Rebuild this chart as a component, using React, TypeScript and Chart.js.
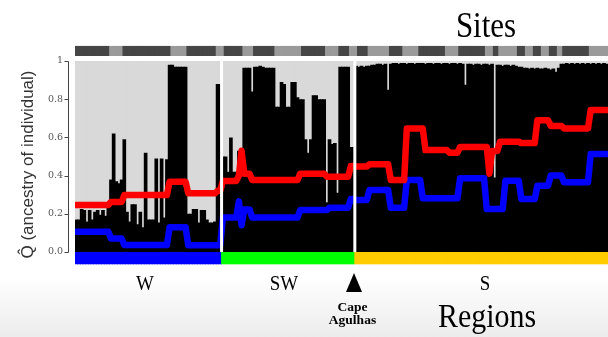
import React, { useEffect, useRef } from 'react';
import { Chart, registerables } from 'chart.js';

Chart.register(...registerables);

// ---- data ----
const regionNames = ['W', 'SW', 'S'];
const regionSizes = [55, 50, 95];
const regionColors = ['#0000ff', '#00ff00', '#ffcc00'];

const siteSizes = [13, 5, 18, 6, 11, 3, 7, 4, 8, 10, 9, 5, 4, 3, 4, 8, 5, 6, 10, 5, 10, 3, 2, 7, 3, 3, 3, 3, 3, 2, 10, 7];
const siteColors = ['#464646', '#9a9a9a'];

const yTickValues = [0, 0.2, 0.4, 0.6, 0.8, 1];
const yTickLabels = ['0.0', '0.2', '0.4', '0.6', '0.8', '1'];

const ancestryW = [
  0.17, 0.17, 0.225, 0.22, 0.16, 0.22, 0.17, 0.21, 0.22, 0.195,
  0.22, 0.19, 0.24, 0.38, 0.62, 0.37, 0.36, 0.38, 0.59, 0.21,
  0.16, 0.25, 0.25, 0.145, 0.21, 0.13, 0.52, 0.17, 0.17, 0.17,
  0.49, 0.155, 0.49, 0.18, 0.485, 0.98, 0.98, 0.97, 0.97, 0.97,
  0.97, 0.97, 0.2, 0.2, 0.225, 0.225, 0.155, 0.22, 0.22, 0.17,
  0.155, 0.155, 0.16, 0.88, 0.88,
];
const ancestrySW = [
  0.5, 0.5, 0.42, 0.6, 0.42, 0.42, 0.53, 0.53, 0.965, 0.965,
  0.965, 0.84, 0.97, 0.97, 0.975, 0.97, 0.965, 0.965, 0.965, 0.965,
  0.76, 0.76, 0.89, 0.88, 0.76, 0.76, 0.89, 0.89, 0.81, 0.8,
  0.8, 0.59, 0.52, 0.59, 0.82, 0.82, 0.8, 0.8, 0.8, 0.26,
  0.59, 0.565, 0.57, 0.31, 0.97, 0.97, 0.97, 0.97, 0.55, 0.55,
];
const ancestryS = [
  0.975, 0.97, 0.975, 0.97, 0.975, 0.975, 0.98, 0.98, 0.985, 0.985,
  0.98, 0.985, 0.85, 0.985, 0.99, 0.99, 0.985, 0.99, 0.99, 0.985,
  0.99, 0.99, 0.985, 0.99, 0.99, 0.99, 0.985, 0.99, 0.99, 0.985,
  0.99, 0.99, 0.985, 0.99, 0.99, 0.985, 0.99, 0.99, 0.985, 0.99,
  0.985, 0.875, 0.985, 0.985, 0.98, 0.985, 0.985, 0.98, 0.985, 0.985,
  0.98, 0.985, 0.39, 0.98, 0.98, 0.975, 0.98, 0.98, 0.975, 0.98,
  0.975, 0.97, 0.97, 0.965, 0.965, 0.96, 0.965, 0.96, 0.965, 0.96,
  0.96, 0.965, 0.96, 0.955, 0.96, 0.944, 0.965, 0.985, 0.985, 0.99,
  0.985, 0.99, 0.985, 0.99, 0.985, 0.99, 0.985, 0.99, 0.985, 0.99,
  0.985, 0.99, 0.985, 0.99, 0.985,
];

const redW = [
  0.246, 0.246, 0.246, 0.246, 0.246, 0.246, 0.246, 0.246, 0.246, 0.246, 0.246, 0.246, 0.246,
  0.262, 0.262, 0.262, 0.262, 0.262,
  0.298, 0.298, 0.298, 0.298, 0.298, 0.298, 0.298, 0.298, 0.298, 0.298, 0.298, 0.298, 0.298, 0.298, 0.298, 0.298, 0.298,
  0.368, 0.368, 0.368, 0.368, 0.368, 0.368, 0.368,
  0.307, 0.307, 0.307, 0.307, 0.307, 0.307, 0.307, 0.307, 0.307, 0.307, 0.307,
  0.32, 0.32,
];
const redSW = [
  0.372, 0.372, 0.372, 0.372, 0.372, 0.372,
  0.4, 0.53,
  0.41, 0.41, 0.41,
  0.377, 0.377, 0.377, 0.377, 0.377, 0.377, 0.377, 0.377, 0.377, 0.377, 0.377, 0.377, 0.377, 0.377, 0.377, 0.377, 0.377, 0.377,
  0.41, 0.41, 0.41, 0.41, 0.41, 0.41, 0.41, 0.41, 0.41, 0.41,
  0.394, 0.394, 0.394, 0.394, 0.394, 0.394, 0.394, 0.394, 0.394,
  0.45, 0.45,
];
const redS = [
  0.447, 0.447, 0.447, 0.447, 0.447,
  0.459, 0.459, 0.459, 0.459, 0.459, 0.459, 0.459, 0.459,
  0.377, 0.377, 0.377, 0.377, 0.377, 0.377,
  0.647, 0.647, 0.647, 0.647, 0.647, 0.647, 0.647,
  0.534, 0.534, 0.534, 0.534, 0.534, 0.534, 0.534, 0.534, 0.534,
  0.52, 0.52, 0.52, 0.52,
  0.55, 0.55, 0.55, 0.55, 0.55, 0.55, 0.55, 0.55, 0.55, 0.55, 0.55,
  0.41,
  0.529, 0.529, 0.529,
  0.577, 0.577, 0.577, 0.577, 0.577, 0.577, 0.577, 0.577,
  0.57, 0.57, 0.57, 0.57, 0.57, 0.57,
  0.69, 0.69, 0.69, 0.69, 0.69,
  0.66, 0.66, 0.66, 0.66, 0.66,
  0.647, 0.647, 0.647, 0.647, 0.647, 0.647, 0.647, 0.647, 0.647, 0.647,
  0.743, 0.743, 0.743, 0.743, 0.743, 0.743, 0.743,
];

const blueW = [
  0.106, 0.106, 0.106, 0.106, 0.106, 0.106, 0.106, 0.106, 0.106, 0.106, 0.106, 0.106, 0.106,
  0.07, 0.07, 0.07, 0.07, 0.07,
  0.036, 0.036, 0.036, 0.036, 0.036, 0.036, 0.036, 0.036, 0.036, 0.036, 0.036, 0.036, 0.036, 0.036, 0.036, 0.036, 0.036,
  0.13, 0.13, 0.13, 0.13, 0.13, 0.13, 0.13,
  0.035, 0.035, 0.035, 0.035, 0.035, 0.035, 0.035, 0.035, 0.035, 0.035, 0.035, 0.035, 0.035,
];
const blueSW = [
  0.18, 0.18, 0.18, 0.18, 0.18, 0.18,
  0.265, 0.14,
  0.223, 0.223, 0.223,
  0.18, 0.18, 0.18, 0.18, 0.18, 0.18, 0.18, 0.18, 0.18, 0.18, 0.18, 0.18, 0.18, 0.18, 0.18, 0.18, 0.18, 0.18,
  0.22, 0.22, 0.22, 0.22, 0.22, 0.22, 0.22, 0.22, 0.22, 0.22, 0.22,
  0.232, 0.232, 0.232, 0.232, 0.232, 0.232, 0.232, 0.232,
  0.278, 0.278,
];
const blueS = [
  0.272, 0.272, 0.272, 0.272, 0.272,
  0.325, 0.325, 0.325, 0.325, 0.325, 0.325, 0.325, 0.325,
  0.232, 0.232, 0.232, 0.232, 0.232, 0.232,
  0.377, 0.377, 0.377, 0.377, 0.377, 0.377,
  0.281, 0.281, 0.281, 0.281, 0.281, 0.281, 0.281, 0.281, 0.281, 0.281, 0.281, 0.281, 0.281, 0.281,
  0.386, 0.386, 0.386, 0.386, 0.386, 0.386, 0.386, 0.386, 0.386, 0.386,
  0.225, 0.225, 0.225, 0.225, 0.225, 0.225, 0.225,
  0.373, 0.373, 0.373, 0.373, 0.373, 0.373,
  0.277, 0.277, 0.277, 0.277, 0.277, 0.277,
  0.347, 0.347, 0.347, 0.347, 0.347,
  0.4, 0.4, 0.4, 0.4, 0.4,
  0.365, 0.365, 0.365, 0.365, 0.365, 0.365, 0.365, 0.365, 0.365, 0.365,
  0.513, 0.513, 0.513, 0.513, 0.513, 0.513, 0.513,
];

// ---- styling constants ----
const Y_MIN = -0.065;
const Y_MAX = 1.08;
const BAND_RANGE = [-0.065, 0];
const SITE_RANGE = [1.026, 1.08];

const ancestry = [...ancestryW, ...ancestrySW, ...ancestryS];
const redSeries = [...redW, ...redSW, ...redS];
const blueSeries = [...blueW, ...blueSW, ...blueS];
const individuals = ancestry.map((_, i) => String(i + 1));
const regionOf = regionSizes.flatMap((n, r) => Array(n).fill(r));
const siteOf = siteSizes.flatMap((n, s) => Array(n).fill(s));

const decorPlugin = {
  id: 'decor',
  afterDatasetsDraw(chart: any) {
    const { ctx, chartArea, scales } = chart;
    const x = scales.x;
    const y = scales.y;
    const top = y.getPixelForValue(1);
    const bot = y.getPixelForValue(0);
    ctx.save();
    // white separators between regions
    ctx.fillStyle = '#ffffff';
    let cum = 0;
    for (let r = 0; r < regionSizes.length - 1; r++) {
      cum += regionSizes[r];
      const px = (x.getPixelForValue(cum - 1) + x.getPixelForValue(cum)) / 2;
      ctx.fillRect(px - 1.5, top, 3, bot - top);
    }
    // y axis line + ticks
    const ax = Math.round(chartArea.left - 7) + 0.5;
    ctx.strokeStyle = '#444';
    ctx.lineWidth = 1;
    ctx.beginPath();
    ctx.moveTo(ax, Math.round(top) + 0.5);
    ctx.lineTo(ax, Math.round(bot) + 0.5);
    yTickValues.forEach((v) => {
      const py = Math.round(y.getPixelForValue(v)) + 0.5;
      ctx.moveTo(ax - 4, py);
      ctx.lineTo(ax, py);
    });
    ctx.stroke();
    ctx.restore();
  },
};

const serif = '"Liberation Serif", "Times New Roman", serif';

const labelStyle = (left: number, top: number, size: number, extra: any = {}): React.CSSProperties => ({
  position: 'absolute',
  left,
  top,
  fontFamily: serif,
  fontSize: size,
  lineHeight: 1,
  whiteSpace: 'nowrap',
  color: '#000',
  transform: 'translateX(-50%) scaleX(0.86)',
  ...extra,
});

export default function App() {
  const canvasRef = useRef<HTMLCanvasElement>(null);

  useEffect(() => {
    const canvas = canvasRef.current;
    if (!canvas) return;
    const chart = new Chart(canvas, {
      type: 'bar',
      data: {
        labels: individuals,
        datasets: [
          {
            type: 'line',
            label: 'red',
            data: redSeries,
            borderColor: '#ff0000',
            backgroundColor: '#ff0000',
            borderWidth: 6.5,
            pointRadius: 0,
            tension: 0,
            borderJoinStyle: 'round',
            borderCapStyle: 'round',
            clip: 0,
            order: 0,
          } as any,
          {
            type: 'line',
            label: 'blue',
            data: blueSeries,
            borderColor: '#0000ff',
            backgroundColor: '#0000ff',
            borderWidth: 6.5,
            pointRadius: 0,
            tension: 0,
            borderJoinStyle: 'round',
            borderCapStyle: 'round',
            clip: 0,
            order: 0,
          } as any,
          {
            label: 'ancestry',
            data: ancestry,
            backgroundColor: '#000000',
            order: 1,
          },
          {
            label: 'other',
            data: ancestry.map((q) => [q, 1]),
            backgroundColor: '#d9d9d9',
            order: 2,
          } as any,
          {
            label: 'regions',
            data: individuals.map(() => BAND_RANGE),
            backgroundColor: regionOf.map((r) => regionColors[r]),
            order: 3,
          } as any,
          {
            label: 'sites',
            data: individuals.map(() => SITE_RANGE),
            backgroundColor: siteOf.map((s) => siteColors[s % 2]),
            order: 3,
          } as any,
        ],
      },
      options: {
        responsive: false,
        animation: false,
        events: [],
        layout: { padding: { left: 0, right: 0, top: 45.7, bottom: 72.6 } },
        datasets: {
          bar: {
            grouped: false,
            categoryPercentage: 1,
            barPercentage: 1.375,
            borderWidth: 0,
          },
        } as any,
        plugins: {
          legend: { display: false },
          tooltip: { enabled: false },
        },
        scales: {
          x: {
            type: 'category',
            display: false,
            offset: true,
          },
          y: {
            type: 'linear',
            min: Y_MIN,
            max: Y_MAX,
            afterBuildTicks: (s: any) => {
              s.ticks = yTickValues.map((v) => ({ value: v }));
            },
            afterFit: (s: any) => {
              s.width = 75;
            },
            grid: { display: false, drawTicks: false },
            border: { display: false },
            ticks: {
              autoSkip: false,
              padding: 12,
              color: '#555',
              font: { family: '"DejaVu Serif", serif', size: 9.5 },
              callback: (v: any) => {
                const i = yTickValues.indexOf(Number(v));
                return i >= 0 ? yTickLabels[i] : '';
              },
            },
            title: {
              display: true,
              text: 'Q\u0302 (ancestry of individual)\u00a0\u00a0\u00a0\u00a0',
              color: '#333',
              font: { family: '"Liberation Sans", Arial, sans-serif', size: 17 },
              padding: { top: 18, bottom: 0 },
            },
          } as any,
        },
      },
      plugins: [decorPlugin],
    });
    return () => chart.destroy();
  }, []);

  return (
    <div
      style={{
        position: 'fixed',
        left: 0,
        top: 0,
        width: 608,
        height: 337,
        overflow: 'hidden',
        background: 'linear-gradient(to bottom, #ffffff 0%, #ffffff 82%, #ececec 100%)',
      }}
    >
      <canvas ref={canvasRef} width={608} height={337} style={{ display: 'block', position: 'absolute', left: 0, top: 0 }} />
      <div style={labelStyle(486, 6.9, 36)}>Sites</div>
      <div style={labelStyle(145, 271.6, 22)}>{regionNames[0]}</div>
      <div style={labelStyle(284, 271.6, 22)}>{regionNames[1]}</div>
      <div style={labelStyle(485, 271.6, 22)}>{regionNames[2]}</div>
      <div style={labelStyle(487, 299.4, 34, { transform: 'translateX(-50%) scaleX(0.88)' })}>Regions</div>
      <div
        style={{
          position: 'absolute',
          left: 345.5,
          top: 273,
          width: 0,
          height: 0,
          borderLeft: '8px solid transparent',
          borderRight: '8px solid transparent',
          borderBottom: '19px solid #000',
        }}
      />
      <div
        style={labelStyle(352.5, 300, 13.5, {
          fontWeight: 'bold',
          lineHeight: '13px',
          textAlign: 'center',
          transform: 'translateX(-50%)',
        })}
      >
        Cape
        <br />
        Agulhas
      </div>
    </div>
  );
}
